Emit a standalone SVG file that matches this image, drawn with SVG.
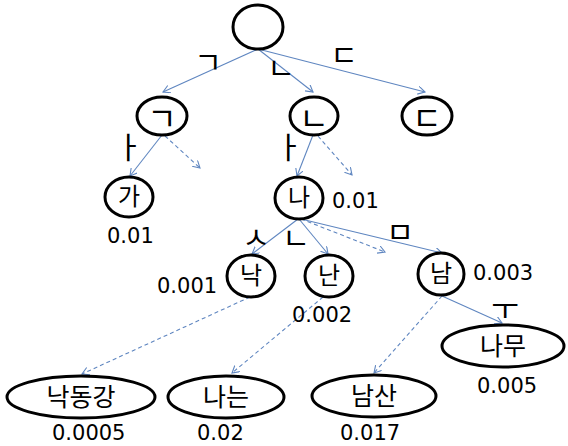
<svg xmlns="http://www.w3.org/2000/svg" width="568" height="446" viewBox="0 0 568 446">
<defs>
<marker id="arr" markerWidth="10" markerHeight="10" refX="7" refY="4" orient="auto" markerUnits="userSpaceOnUse">
<path d="M0,0 L7,4 L0,8" fill="none" stroke="#5F86C0" stroke-width="1.1"/>
</marker>
</defs>
<style>
.n{fill:#fff;stroke:#000;stroke-width:3}
.e{stroke:#5F86C0;stroke-width:1.1;fill:none;marker-end:url(#arr)}
.d{stroke-dasharray:4 3}
.t{font-family:"Noto Sans CJK KR",sans-serif;font-size:24px;fill:#000;text-anchor:middle}
.j{font-family:"Noto Sans CJK KR",sans-serif;font-size:30px;fill:#000;text-anchor:middle}
.k{font-family:"Noto Sans CJK KR",sans-serif;font-size:32px;fill:#000;text-anchor:middle}
.p{font-family:"DejaVu Sans",sans-serif;font-size:21px;fill:#000}
</style>
<rect width="568" height="446" fill="#fff"/>
<g id="connectors">
<line class="e" x1="258" y1="49" x2="163" y2="92"/>
<line class="e" x1="258" y1="49" x2="313" y2="92"/>
<line class="e" x1="258" y1="49" x2="425" y2="92"/>
<line class="e" x1="162" y1="135" x2="130" y2="176"/>
<line class="e d" x1="165" y1="136" x2="200" y2="168"/>
<line class="e" x1="313" y1="135" x2="297" y2="176"/>
<line class="e d" x1="318" y1="136" x2="352" y2="175"/>
<line class="e" x1="298" y1="219" x2="252" y2="254"/>
<line class="e" x1="299" y1="219" x2="328" y2="254"/>
<line class="e d" x1="301" y1="219" x2="385" y2="252"/>
<line class="e" x1="301" y1="219" x2="442" y2="253"/>
<line class="e d" x1="250" y1="297" x2="82" y2="374"/>
<line class="e d" x1="323" y1="297" x2="232" y2="373"/>
<line class="e d" x1="442" y1="296" x2="374" y2="373"/>
<line class="e" x1="442" y1="296" x2="502" y2="323"/>
</g>
<g id="edge-labels">
<text class="j" x="208" y="73">ㄱ</text>
<text class="j" x="281" y="79">ㄴ</text>
<text class="j" x="344" y="66">ㄷ</text>
<text class="j" x="129" y="158">ㅏ</text>
<text class="j" x="289" y="158">ㅏ</text>
<text class="j" x="256" y="248">ㅅ</text>
<text class="j" x="296" y="249">ㄴ</text>
<text class="j" x="400" y="243">ㅁ</text>
<text class="j" x="505" y="319">ㅜ</text>
</g>
<g id="root"><ellipse class="n" cx="258" cy="27" rx="25" ry="22"/></g>
<g id="n-g"><ellipse class="n" cx="162" cy="116" rx="25" ry="19"/><text class="k" x="162" y="130">ㄱ</text></g>
<g id="n-n"><ellipse class="n" cx="314" cy="116" rx="24" ry="19"/><text class="k" x="314" y="130">ㄴ</text></g>
<g id="n-d"><ellipse class="n" cx="427" cy="116" rx="25" ry="19"/><text class="k" x="427" y="130">ㄷ</text></g>
<g id="n-ga"><ellipse class="n" cx="129" cy="197" rx="24" ry="20"/><text class="t" x="129" y="205">가</text>
<text class="p" x="107" y="243">0.01</text></g>
<g id="n-na"><ellipse class="n" cx="299" cy="198" rx="24" ry="21"/><text class="t" x="299" y="206">나</text>
<text class="p" x="332" y="208">0.01</text></g>
<g id="n-nak"><ellipse class="n" cx="251" cy="276" rx="24" ry="21"/><text class="t" x="251" y="284">낙</text>
<text class="p" x="157" y="293">0.001</text></g>
<g id="n-nan"><ellipse class="n" cx="329" cy="276" rx="24" ry="21"/><text class="t" x="329" y="284">난</text>
<text class="p" x="292" y="322">0.002</text></g>
<g id="n-nam"><ellipse class="n" cx="441" cy="274" rx="23" ry="21"/><text class="t" x="441" y="282">남</text>
<text class="p" x="473" y="280">0.003</text></g>
<g id="w-namu"><ellipse class="n" cx="503" cy="346" rx="61" ry="21"/><text class="t" x="503" y="355" style="font-size:25px">나무</text>
<text class="p" x="477" y="393">0.005</text></g>
<g id="w-nakdonggang"><ellipse class="n" cx="81" cy="397" rx="74" ry="21"/><text class="t" x="81" y="406" style="font-size:25px">낙동강</text>
<text class="p" x="52" y="440">0.0005</text></g>
<g id="w-naneun"><ellipse class="n" cx="226" cy="397" rx="58" ry="21"/><text class="t" x="226" y="406" style="font-size:25px">나는</text>
<text class="p" x="197" y="440">0.02</text></g>
<g id="w-namsan"><ellipse class="n" cx="374" cy="396" rx="62" ry="21"/><text class="t" x="374" y="405" style="font-size:25px">남산</text>
<text class="p" x="340" y="440">0.017</text></g>
</svg>
